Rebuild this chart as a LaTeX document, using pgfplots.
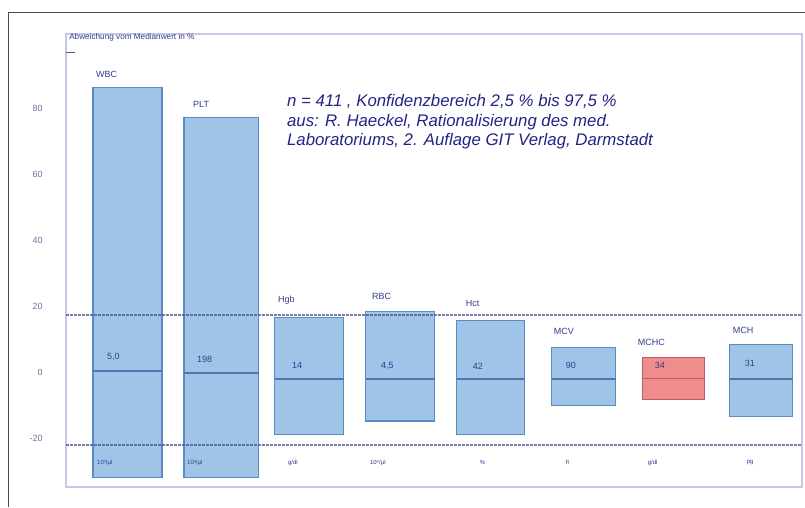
\documentclass[border=0pt]{standalone}
\usepackage{pgfplots}
\pgfplotsset{compat=1.18}
\usepackage{fontspec}
\setmainfont{Liberation Sans}
\definecolor{barfill}{RGB}{160,196,232}
\definecolor{barline}{RGB}{92,138,196}
\definecolor{medline}{RGB}{80,118,176}
\definecolor{redfill}{RGB}{240,140,140}
\definecolor{redline}{RGB}{190,90,110}
\definecolor{framec}{RGB}{200,200,230}
\definecolor{dashc}{RGB}{80,90,150}
\definecolor{txtc}{RGB}{50,60,140}
\definecolor{annc}{RGB}{35,35,135}
\definecolor{tickc}{RGB}{110,115,165}
\begin{document}
\begin{tikzpicture}
\begin{axis}[
  width=805pt, height=507pt, scale only axis,
  xmin=0, xmax=805, ymin=-40.76, ymax=112.88,
  clip=false,
  axis line style={draw=none},
  major tick length=0pt,
  xtick=\empty,
  ytick={-20,0,20,40,60,80},
  yticklabel style={anchor=east, xshift=46pt, font=\fontsize{9}{10}\selectfont, text=tickc},
  /pgf/number format/assume math mode=true,
]
% outer frame
\draw[black!70, line width=0.9pt] (axis cs:8,-40.76) -- (axis cs:8,109.24) -- (axis cs:805,109.24);
% inner frame
\draw[framec, line width=2pt] (axis cs:66,102.58) rectangle (axis cs:802,-34.70);
% small mark top-left
\draw[dashc, line width=0.8pt] (axis cs:66,97.1) -- (axis cs:75,97.1);

% bars
\addplot[fill=barfill, draw=barline, line width=1.1pt] coordinates {(93,-32.0) (162,-32.0) (162,86.4) (93,86.4)} -- cycle;
\addplot[fill=barfill, draw=barline, line width=1.1pt] coordinates {(184,-31.8) (259,-31.8) (259,77.3) (184,77.3)} -- cycle;
\addplot[fill=barfill, draw=barline, line width=1.1pt] coordinates {(275,-18.8) (344,-18.8) (344,16.7) (275,16.7)} -- cycle;
\addplot[fill=barfill, draw=barline, line width=1.1pt] coordinates {(366,-14.8) (435,-14.8) (435,18.5) (366,18.5)} -- cycle;
\addplot[fill=barfill, draw=barline, line width=1.1pt] coordinates {(457,-18.8) (525,-18.8) (525,15.8) (457,15.8)} -- cycle;
\addplot[fill=barfill, draw=barline, line width=1.1pt] coordinates {(552,-10.0) (616,-10.0) (616,7.6) (552,7.6)} -- cycle;
\addplot[fill=redfill, draw=redline, line width=1.1pt] coordinates {(643,-8.2) (705,-8.2) (705,4.5) (643,4.5)} -- cycle;
\addplot[fill=barfill, draw=barline, line width=1.1pt] coordinates {(730,-13.3) (793,-13.3) (793,8.5) (730,8.5)} -- cycle;

% median lines
\addplot[medline, line width=2pt] coordinates {(93,0.3) (162,0.3)};
\addplot[medline, line width=2pt] coordinates {(184,-0.3) (259,-0.3)};
\addplot[medline, line width=2pt] coordinates {(275,-2.0) (344,-2.0)};
\addplot[medline, line width=2pt] coordinates {(366,-2.0) (435,-2.0)};
\addplot[medline, line width=2pt] coordinates {(457,-2.0) (525,-2.0)};
\addplot[medline, line width=2pt] coordinates {(552,-2.0) (616,-2.0)};
\addplot[redline, line width=1.2pt] coordinates {(643,-2.0) (705,-2.0)};
\addplot[medline, line width=2pt] coordinates {(730,-2.0) (793,-2.0)};

% reference limits
\addplot[dashc, line width=1.5pt, dash pattern=on 3pt off 1pt, opacity=0.8] coordinates {(66,17.3) (802,17.3)};
\addplot[dashc, line width=1.5pt, dash pattern=on 3pt off 1pt, opacity=0.8] coordinates {(66,-22.0) (802,-22.0)};

% axis title
\node[anchor=base west, text=txtc, font=\fontsize{8.2}{9}\selectfont, inner sep=0pt] at (axis cs:69,100.9) {Abweichung vom Medianwert in \%};

% category names
\begin{scope}[every node/.style={anchor=west, text=txtc, font=\fontsize{9}{10}\selectfont, inner sep=0pt}]
\node at (axis cs:96,90.2) {WBC};
\node at (axis cs:193,81.1) {PLT};
\node at (axis cs:278,21.7) {Hgb};
\node at (axis cs:372,22.9) {RBC};
\node at (axis cs:466,20.8) {Hct};
\node at (axis cs:554,12.3) {MCV};
\node at (axis cs:638,8.9) {MCHC};
\node at (axis cs:733,12.6) {MCH};
% median values
\node at (axis cs:107,4.7) {5,0};
\node at (axis cs:197,3.8) {198};
\node at (axis cs:292,2.0) {14};
\node at (axis cs:381,2.0) {4,5};
\node at (axis cs:473,1.7) {42};
\node at (axis cs:566,2.0) {90};
\node at (axis cs:655,2.0) {34};
\node at (axis cs:745,2.6) {31};
\end{scope}
% units
\begin{scope}[every node/.style={anchor=west, text=txtc, font=\fontsize{6}{7}\selectfont, inner sep=0pt}]
\node at (axis cs:97,-27.4) {10³/µl};
\node at (axis cs:187,-27.4) {10³/µl};
\node at (axis cs:288,-27.4) {g/dl};
\node at (axis cs:370,-27.4) {10⁶/µl};
\node at (axis cs:480,-27.4) {\%};
\node at (axis cs:566,-27.4) {fl};
\node at (axis cs:648,-27.4) {g/dl};
\node at (axis cs:747,-27.4) {pg};
\end{scope}

% annotation
\node[anchor=north west, text=annc, font=\fontsize{16.8}{19.5}\selectfont\itshape, align=left, inner sep=0pt] at (axis cs:287,84.2) {n = 411 , Konfidenzbereich 2,5 \% bis 97,5 \%\\aus: R. Haeckel, Rationalisierung des med.\\Laboratoriums, 2. Auflage GIT Verlag, Darmstadt};
\end{axis}
\end{tikzpicture}
\end{document}
